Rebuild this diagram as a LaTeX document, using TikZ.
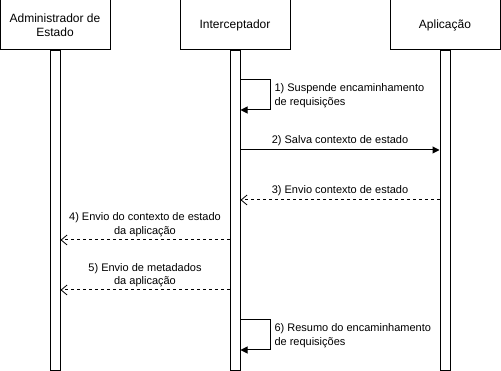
\documentclass[tikz,border=0pt]{standalone}
\usepackage{fontspec}
\setmainfont{Liberation Sans}
\usetikzlibrary{arrows.meta}
\begin{document}
\begin{tikzpicture}[x=1pt,y=-1pt,line width=1pt,
  actor/.style={draw,fill=white,minimum width=110pt,minimum height=50pt,inner sep=0pt,align=center,font=\fontsize{12}{14}\selectfont},
  bar/.style={draw,fill=white,minimum width=10pt,minimum height=320pt,inner sep=0pt},
  sync/.style={-{Triangle[length=7pt,width=7pt]}},
  reply/.style={dash pattern=on 3pt off 3pt,-{Straight Barb[length=6pt,width=10pt,line width=0.8pt]}},
  lbl/.style={font=\fontsize{11}{13.5}\selectfont,inner sep=0pt},
]
\useasboundingbox (0,0) rectangle (501,371);
% participants
\node[actor] (adm) at (55,25) {Administrador de\\Estado};
\node[actor] (int) at (235,25) {Interceptador};
\node[actor] (app) at (445,25) {Aplicação};
% activation bars
\node[bar,anchor=north] (badm) at (adm.south) {};
\node[bar,anchor=north] (bint) at (int.south) {};
\node[bar,anchor=north] (bapp) at (app.south) {};
% 1) self call
\coordinate (s1) at (270,80);
\draw[sync] (bint.east |- s1) -- (s1) -- (270,110) -- (bint.east |- 0,110);
\node[lbl,anchor=north west,align=left] (l1) at (274,83.5) {1) Suspende encaminhamento\\de requisições};
% 2) save state context
\draw[sync] (bint.east |- 0,150) -- (bapp.west |- 0,150);
\node[lbl] (l2) at (340,141) {2) Salva contexto de estado};
% 3) state context reply
\draw[reply] (bapp.west |- 0,200) -- (bint.east |- 0,200);
\node[lbl] (l3) at (340,190.5) {3) Envio contexto de estado};
% 4) application state context
\draw[reply] (bint.west |- 0,240) -- (badm.east |- 0,240);
\node[lbl,align=center] (l4) at (145,224.5) {4) Envio do contexto de estado\\da aplicação};
% 5) application metadata
\draw[reply] (bint.west |- 0,290) -- (badm.east |- 0,290);
\node[lbl,align=center] (l5) at (145,275) {5) Envio de metadados\\da aplicação};
% 6) resume forwarding
\coordinate (s6) at (270,320);
\draw[sync] (bint.east |- s6) -- (s6) -- (270,350) -- (bint.east |- 0,350);
\node[lbl,anchor=north west,align=left] (l6) at (274,323.5) {6) Resumo do encaminhamento\\de requisições};
\end{tikzpicture}
\end{document}
